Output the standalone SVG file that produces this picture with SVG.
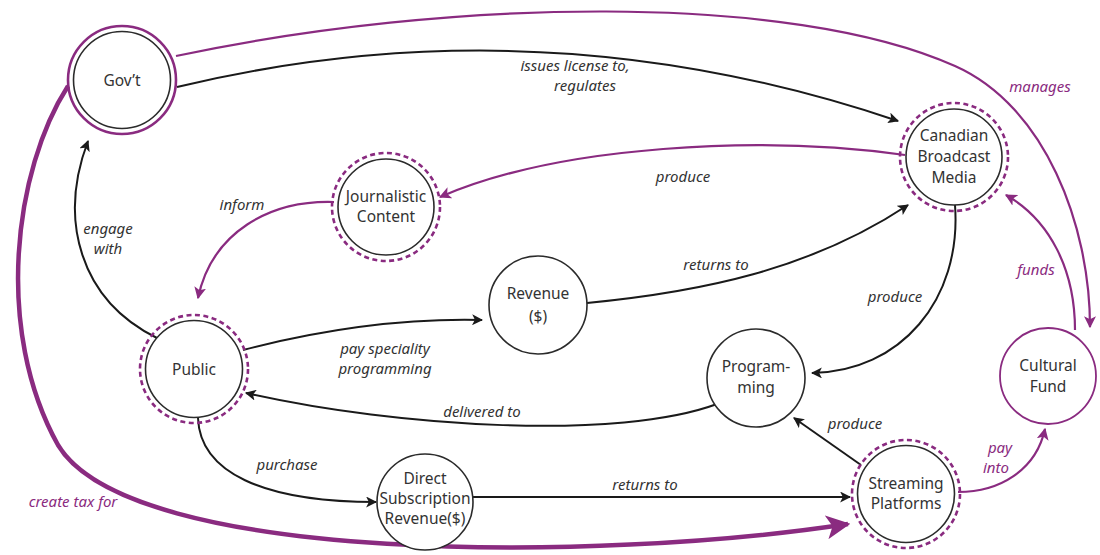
<svg xmlns="http://www.w3.org/2000/svg" width="1100" height="555" viewBox="0 0 1100 555">
  <style>
    .bg { fill: #ffffff; }
    .node { fill: #ffffff; stroke: #2b2b2b; stroke-width: 1.6; }
    .ring { fill: none; stroke: #8a2b80; stroke-width: 2.6; stroke-dasharray: 5 3.5; }
    .ring-solid { fill: none; stroke: #8a2b80; stroke-width: 2.6; }
    .fund { fill: #ffffff; stroke: #8a2b80; stroke-width: 1.8; }
    .nt { font-family: "Noto Sans", "Liberation Sans", sans-serif; font-size: 15.5px; fill: #333333; text-anchor: middle; }
    .lbl { font-family: "Noto Sans", "Liberation Sans", sans-serif; font-size: 15px; font-style: italic; fill: #333333; text-anchor: middle; }
    .lbl-p { font-family: "Noto Sans", "Liberation Sans", sans-serif; font-size: 15px; font-style: italic; fill: #8a2b80; text-anchor: middle; }
    .ek { fill: none; stroke: #1a1a1a; stroke-width: 2; }
    .ep { fill: none; stroke: #8a2b80; stroke-width: 2.2; }
    .ep-thick { fill: none; stroke: #8a2b80; stroke-width: 4.5; }
  </style>
  <defs>
    <marker id="ak" viewBox="0 0 10 10" refX="9" refY="5" markerWidth="11" markerHeight="11" markerUnits="userSpaceOnUse" orient="auto">
      <path d="M0,0 L10,5 L0,10 L2.5,5 Z" fill="#1a1a1a"/>
    </marker>
    <marker id="ap" viewBox="0 0 10 10" refX="9" refY="5" markerWidth="12" markerHeight="12" markerUnits="userSpaceOnUse" orient="auto">
      <path d="M0,0 L10,5 L0,10 L2.5,5 Z" fill="#8a2b80"/>
    </marker>
    <marker id="ap-big" viewBox="0 0 10 10" refX="9" refY="5" markerWidth="24" markerHeight="24" markerUnits="userSpaceOnUse" orient="auto">
      <path d="M0,0 L10,5 L0,10 L2.5,5 Z" fill="#8a2b80"/>
    </marker>
  </defs>

  <rect class="bg" x="0" y="0" width="1100" height="555"/>

  <g id="connectors">
    <!-- Gov't issues license to / regulates broadcast media -->
    <path class="ek" d="M177,87 Q540,0 898,121" marker-end="url(#ak)"/>
    <!-- Gov't manages the cultural fund -->
    <path class="ep" d="M176,56 C450,-2 790,-8 955,66 C1045,106 1090,225 1090,327" marker-end="url(#ap)"/>
    <!-- Gov't creates tax for streaming platforms -->
    <path class="ep-thick" d="M68,86 C14,170 -6,330 58,445 C130,565 600,562 848,524" marker-end="url(#ap-big)"/>
    <!-- Public engages with Gov't -->
    <path class="ek" d="M157,338 C80,300 58,220 88,141" marker-end="url(#ak)"/>
    <!-- Journalistic content informs public -->
    <path class="ep" d="M334,202 C270,200 212,232 198,298" marker-end="url(#ap)"/>
    <!-- Broadcast media produce journalistic content -->
    <path class="ep" d="M905,155 C760,135 560,145 440,197" marker-end="url(#ap)"/>
    <!-- Public pays for speciality programming -->
    <path class="ek" d="M243,350 C320,330 400,318 482,320" marker-end="url(#ak)"/>
    <!-- Revenue returns to broadcast media -->
    <path class="ek" d="M587,303 C700,292 810,270 908,205" marker-end="url(#ak)"/>
    <!-- Broadcast media produce programming -->
    <path class="ek" d="M955,205 C962,300 900,372 812,373" marker-end="url(#ak)"/>
    <!-- Programming delivered to public -->
    <path class="ek" d="M717,404 C620,440 400,428 246,393" marker-end="url(#ak)"/>
    <!-- Streaming platforms produce programming -->
    <path class="ek" d="M861,465 L794,418" marker-end="url(#ak)"/>
    <!-- Public purchases direct subscriptions -->
    <path class="ek" d="M198,418 C200,472 262,502 376,502" marker-end="url(#ak)"/>
    <!-- Subscription revenue returns to streaming platforms -->
    <path class="ek" d="M473,497 L850,497" marker-end="url(#ak)"/>
    <!-- Streaming platforms pay into cultural fund -->
    <path class="ep" d="M958,492 C1000,492 1036,470 1045,429" marker-end="url(#ap)"/>
    <!-- Cultural fund funds broadcast media -->
    <path class="ep" d="M1075,330 C1075,270 1050,220 1006,195" marker-end="url(#ap)"/>

    <!-- connector labels -->
    <text class="lbl" x="575" y="71">issues license to,</text>
    <text class="lbl" x="585" y="91">regulates</text>
    <text class="lbl-p" x="1040" y="92">manages</text>
    <text class="lbl-p" x="73" y="507">create tax for</text>
    <text class="lbl" x="108" y="234">engage</text>
    <text class="lbl" x="108" y="254">with</text>
    <text class="lbl" x="242" y="210">inform</text>
    <text class="lbl" x="683" y="182">produce</text>
    <text class="lbl" x="385" y="354">pay speciality</text>
    <text class="lbl" x="385" y="374">programming</text>
    <text class="lbl" x="716" y="270">returns to</text>
    <text class="lbl" x="895" y="302">produce</text>
    <text class="lbl" x="482" y="417">delivered to</text>
    <text class="lbl" x="855" y="429">produce</text>
    <text class="lbl" x="287" y="470">purchase</text>
    <text class="lbl" x="645" y="490">returns to</text>
    <text class="lbl-p" x="1000" y="453">pay</text>
    <text class="lbl-p" x="996" y="473">into</text>
    <text class="lbl-p" x="1036" y="275">funds</text>
  </g>

  <g id="gov">
    <circle class="ring-solid" cx="122" cy="80" r="54"/>
    <circle class="node" cx="122" cy="80" r="48.5"/>
    <text class="nt" x="122" y="86">Gov’t</text>
  </g>

  <g id="broadcast-media">
    <circle class="ring" cx="954" cy="157" r="54"/>
    <circle class="node" cx="954" cy="157" r="48"/>
    <text class="nt" x="954" y="141">Canadian</text>
    <text class="nt" x="954" y="162">Broadcast</text>
    <text class="nt" x="954" y="183">Media</text>
  </g>

  <g id="journalistic-content">
    <circle class="ring" cx="386" cy="207" r="54"/>
    <circle class="node" cx="386" cy="207" r="48"/>
    <text class="nt" x="386" y="202">Journalistic</text>
    <text class="nt" x="386" y="222">Content</text>
  </g>

  <g id="public">
    <circle class="ring" cx="194" cy="369" r="54"/>
    <circle class="node" cx="194" cy="369" r="48.5"/>
    <text class="nt" x="194" y="375">Public</text>
  </g>

  <g id="revenue">
    <circle class="node" cx="538" cy="305" r="49"/>
    <text class="nt" x="538" y="299">Revenue</text>
    <text class="nt" x="538" y="322">($)</text>
  </g>

  <g id="programming">
    <circle class="node" cx="756" cy="378" r="49"/>
    <text class="nt" x="756" y="372">Program-</text>
    <text class="nt" x="756" y="393">ming</text>
  </g>

  <g id="direct-subscription">
    <circle class="node" cx="425" cy="502" r="48"/>
    <text class="nt" x="425" y="484">Direct</text>
    <text class="nt" x="425" y="504">Subscription</text>
    <text class="nt" x="425" y="524">Revenue($)</text>
  </g>

  <g id="streaming-platforms">
    <circle class="ring" cx="906" cy="494" r="54"/>
    <circle class="node" cx="906" cy="494" r="48.5"/>
    <text class="nt" x="906" y="489">Streaming</text>
    <text class="nt" x="906" y="509">Platforms</text>
  </g>

  <g id="cultural-fund">
    <circle class="fund" cx="1048" cy="376" r="48"/>
    <text class="nt" x="1048" y="371">Cultural</text>
    <text class="nt" x="1048" y="392">Fund</text>
  </g>
</svg>
